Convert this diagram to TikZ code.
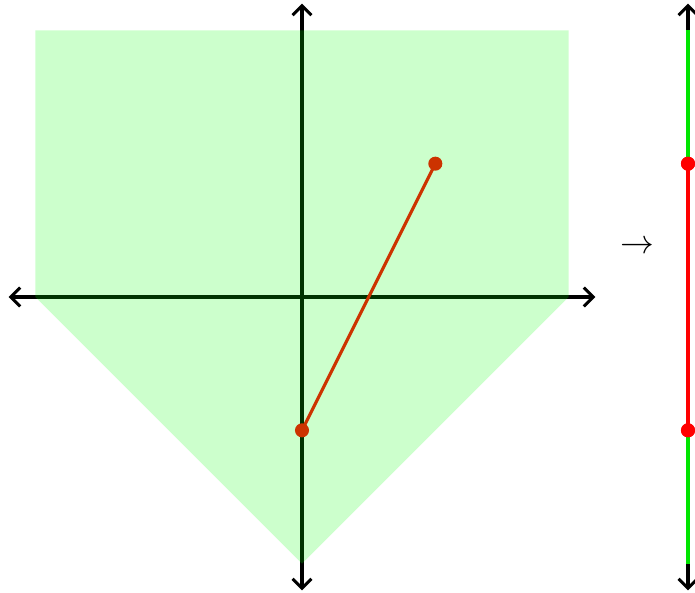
\documentclass[tikz,border=0pt]{standalone}
\usetikzlibrary{arrows.meta}
\begin{document}
\begin{tikzpicture}[x=2cm,y=2cm,
  axis/.style={line width=1.3pt,black,{Straight Barb[length=4pt,width=8pt]}-{Straight Barb[length=4pt,width=8pt]}},
  seg/.style={line width=1.3pt},
  dot/.style={circle,fill,inner sep=0pt,minimum size=6pt}]
\useasboundingbox (-2.265,-2.2125) rectangle (2.9475,2.2275);
% axes
\coordinate (xl) at (-2.2,0); \coordinate (xr) at (2.2,0);
\coordinate (yt) at (0,2.2); \coordinate (yb) at (0,-2.2);
\draw[axis] (xl) -- (xr);
\draw[axis] (yt) -- (yb);
% segment
\node[dot,red] (p) at (1,1) {};
\node[dot,red] (q) at (0,-1) {};
\draw[seg,red] (q.center) -- (p.center);
% green region overlay
\fill[green,opacity=0.2] (-2,2) -- (2,2) -- (2,0) -- (0,-2) -- (-2,0) -- cycle;
% right line
\coordinate (rt) at (2.895,2.2); \coordinate (rb) at (2.895,-2.2);
\coordinate (r2) at (2.895,2); \coordinate (rm) at (2.895,-2);
\draw[axis] (rt) -- (rb);
\node[dot,red] (rp) at (2.895,1) {};
\node[dot,red] (rq) at (2.895,-1) {};
\draw[seg,green!90!black] (r2) -- (rp.center);
\draw[seg,red] (rp.center) -- (rq.center);
\draw[seg,green!90!black] (rq.center) -- (rm);
\node[dot,red] at (rp) {};
\node[dot,red] at (rq) {};
% map arrow
\node (to) at (2.5125,0.375) {\Large$\to$};
\end{tikzpicture}
\end{document}
